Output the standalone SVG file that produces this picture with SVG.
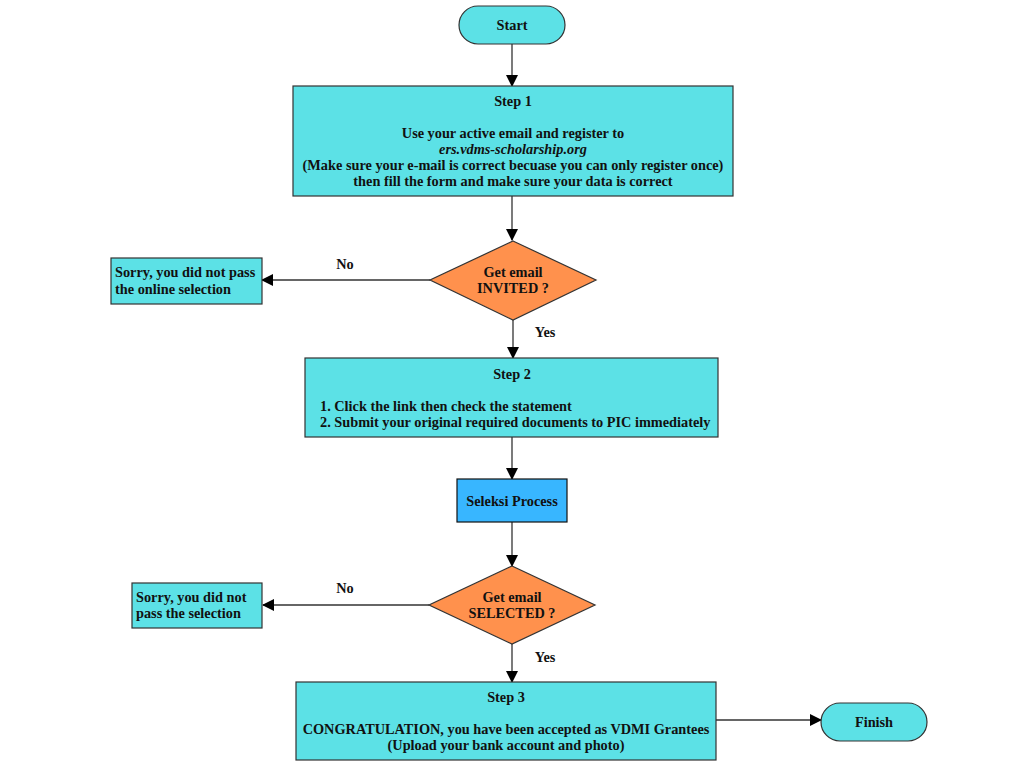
<svg xmlns="http://www.w3.org/2000/svg" width="1024" height="768" viewBox="0 0 1024 768">
<defs>
<marker id="ah" markerWidth="12" markerHeight="12" refX="11" refY="6" orient="auto" markerUnits="userSpaceOnUse">
<path d="M0,0 L12,6 L0,12 Z" fill="#000"/>
</marker>
<style>
.t{font-family:"Liberation Serif","Times New Roman",serif;font-weight:bold;font-size:14.3px;fill:#111;}
.c{text-anchor:middle;}
.box{fill:#5CE1E6;stroke:#333;stroke-width:1.2;}
.dia{fill:#FF914D;stroke:#333;stroke-width:1.2;}
.blue{fill:#38B6FF;stroke:#111;stroke-width:1.2;}
.ln{stroke:#333;stroke-width:1.3;fill:none;marker-end:url(#ah);}
</style>
</defs>
<rect width="1024" height="768" fill="#fff"/>
<g id="connectors">
<line class="ln" x1="512" y1="44" x2="512" y2="86"/>
<line class="ln" x1="512" y1="196" x2="512" y2="240"/>
<line class="ln" x1="430" y1="280" x2="262" y2="280"/>
<line class="ln" x1="513" y1="320" x2="513" y2="358"/>
<line class="ln" x1="512" y1="437" x2="512" y2="479"/>
<line class="ln" x1="512" y1="522" x2="512" y2="566"/>
<line class="ln" x1="429" y1="605" x2="263" y2="605"/>
<line class="ln" x1="512" y1="644" x2="512" y2="682"/>
<line class="ln" x1="716" y1="720" x2="821" y2="720"/>
<text class="t c" x="345" y="269">No</text>
<text class="t c" x="545" y="337">Yes</text>
<text class="t c" x="345" y="593">No</text>
<text class="t c" x="545" y="662">Yes</text>
</g>
<g id="start">
<rect class="box" x="459" y="6" width="106" height="38" rx="19"/>
<text class="t c" x="512" y="30">Start</text>
</g>
<g id="step1">
<rect class="box" x="293" y="86" width="440" height="110"/>
<text class="t c" x="513" y="106">Step 1</text>
<text class="t c" x="513" y="138">Use your active email and register to</text>
<text class="t c" x="513" y="154" font-style="italic" font-weight="normal">ers.vdms-scholarship.org</text>
<text class="t c" x="513" y="170">(Make sure your e-mail is correct becuase you can only register once)</text>
<text class="t c" x="513" y="186">then fill the form and make sure your data is correct</text>
</g>
<g id="invited">
<polygon class="dia" points="513,241 596,280 513,320 430,280"/>
<text class="t c" x="513" y="277">Get email</text>
<text class="t c" x="513" y="293">INVITED ?</text>
</g>
<g id="fail1">
<rect class="box" x="111" y="258" width="151" height="46"/>
<text class="t" x="115" y="277">Sorry, you did not pass</text>
<text class="t" x="115" y="294">the online selection</text>
</g>
<g id="step2">
<rect class="box" x="305" y="358" width="413" height="79"/>
<text class="t c" x="512" y="379">Step 2</text>
<text class="t" x="320" y="411">1.  Click the link then check the statement</text>
<text class="t" x="320" y="427">2.  Submit your original required documents to PIC immediately</text>
</g>
<g id="seleksi">
<rect class="blue" x="457" y="479" width="110" height="43"/>
<text class="t c" x="512" y="506">Seleksi Process</text>
</g>
<g id="selected">
<polygon class="dia" points="512,566 595,605 512,644 429,605"/>
<text class="t c" x="512" y="602">Get email</text>
<text class="t c" x="512" y="618">SELECTED ?</text>
</g>
<g id="fail2">
<rect class="box" x="132" y="583" width="130" height="45"/>
<text class="t" x="136" y="602">Sorry, you did not</text>
<text class="t" x="136" y="618">pass the selection</text>
</g>
<g id="step3">
<rect class="box" x="296" y="682" width="420" height="78"/>
<text class="t c" x="506" y="702">Step 3</text>
<text class="t c" x="506" y="734">CONGRATULATION, you have been accepted as VDMI Grantees</text>
<text class="t c" x="506" y="750">(Upload your bank account and photo)</text>
</g>
<g id="finish">
<rect class="box" x="821" y="703" width="106" height="38" rx="19"/>
<text class="t c" x="874" y="727">Finish</text>
</g>
</svg>
